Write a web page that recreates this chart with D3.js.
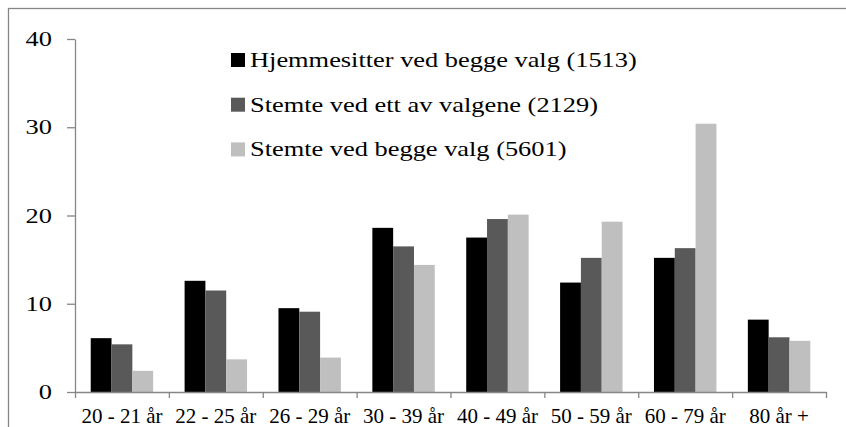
<!DOCTYPE html>
<meta charset="utf-8">
<body style="margin:0; background:#ffffff">
<svg class="chart"></svg>
<script src="https://d3js.org/d3.v7.min.js"></script>
<script>

var categories = ["20 - 21 år", "22 - 25 år", "26 - 29 år", "30 - 39 år", "40 - 49 år", "50 - 59 år", "60 - 79 år", "80 år +"];

var seriesNames = ["Hjemmesitter ved begge valg (1513)", "Stemte ved ett av valgene (2129)", "Stemte ved begge valg (5601)"];

var hjemmesitter = [6.1, 12.6, 9.5, 18.6, 17.5, 12.4, 15.2, 8.2];
var stemteEtt = [5.4, 11.5, 9.1, 16.5, 19.6, 15.2, 16.3, 6.2];
var stemteBegge = [2.4, 3.7, 3.9, 14.4, 20.1, 19.3, 30.4, 5.8];

var yTicks = [0, 10, 20, 30, 40];

var colors = ["#000000", "#595959", "#bfbfbf"];

var font = "'Liberation Serif', 'Times New Roman', serif";
var axisColor = "#868686";
var stretch = 1.2; // the reference text is a bit wider than it is tall

var width = 846, height = 427;
var margin = {top: 39, left: 75};
var innerW = 826 - margin.left;
var innerH = 392 - margin.top;

var svg = d3.select(".chart")
	.attr("width", width)
	.attr("height", height);

// outer frame (only left and top edges show in the picture)
svg.append("rect")
	.attr("x", 8.5)
	.attr("y", 8.5)
	.attr("width", 900)
	.attr("height", 500)
	.attr("fill", "none")
	.attr("stroke", axisColor)
	.attr("stroke-width", 1.3);

var chart = svg.append("g")
	.attr("transform", "translate(" + margin.left + "," + margin.top + ")");

var x0 = d3.scaleBand()
	.domain(categories)
	.range([0, innerW])
	.paddingInner(0.335)
	.paddingOuter(0.1675);

var x1 = d3.scaleBand()
	.domain([0, 1, 2])
	.range([0, x0.bandwidth()]);

var y = d3.scaleLinear()
	.domain([0, 40])
	.range([innerH, 0]);

var data = categories.map(function (c, i) {
	return {cat: c, values: [hjemmesitter[i], stemteEtt[i], stemteBegge[i]]};
});

chart.selectAll(".group")
	.data(data)
  .enter().append("g")
	.attr("class", "group")
	.attr("transform", function (d) { return "translate(" + x0(d.cat) + ",0)"; })
  .selectAll("rect")
	.data(function (d) { return d.values; })
  .enter().append("rect")
	.attr("x", function (d, i) { return x1(i); })
	.attr("width", x1.bandwidth())
	.attr("y", function (d) { return y(d); })
	.attr("height", function (d) { return innerH - y(d); })
	.attr("fill", function (d, i) { return colors[i]; });

// y axis, labels drawn separately so they can be stretched
var yAxis = d3.axisLeft(y)
	.tickValues(yTicks)
	.tickSize(8)
	.tickSizeOuter(0)
	.tickFormat("");

var yg = chart.append("g").call(yAxis);
yg.selectAll("path, line").attr("stroke", axisColor).attr("stroke-width", 1.3);

chart.append("g")
	.selectAll("g")
	.data(yTicks)
  .enter().append("g")
	.attr("transform", function (d) { return "translate(-23," + y(d) + ") scale(" + stretch + ",1)"; })
  .append("text")
	.attr("dy", "0.32em")
	.attr("text-anchor", "end")
	.style("font-family", font)
	.style("font-size", "22px")
	.attr("fill", "#000")
	.text(function (d) { return d; });

// x axis: ticks sit between the categories
var xAxis = d3.axisBottom(d3.scaleLinear().domain([0, categories.length]).range([0, innerW]))
	.tickValues(d3.range(categories.length + 1))
	.tickSize(6)
	.tickSizeOuter(0)
	.tickFormat("");

var xg = chart.append("g")
	.attr("transform", "translate(0," + innerH + ")")
	.call(xAxis);
xg.selectAll("path, line").attr("stroke", axisColor).attr("stroke-width", 1.3);

chart.append("g")
	.selectAll("g")
	.data(categories)
  .enter().append("g")
	.attr("transform", function (d) { return "translate(" + (x0(d) + x0.bandwidth() / 2) + "," + (innerH + 31) + ") scale(1.05,1)"; })
  .append("text")
	.attr("text-anchor", "middle")
	.style("font-family", font)
	.style("font-size", "20px")
	.attr("fill", "#000")
	.text(function (d) { return d; });

var legend = svg.append("g")
	.attr("transform", "translate(231,53)");

var row = legend.selectAll("g")
	.data(seriesNames)
  .enter().append("g")
	.attr("transform", function (d, i) { return "translate(0," + (i * 44.7) + ")"; });

row.append("rect")
	.attr("width", 14)
	.attr("height", 14)
	.attr("fill", function (d, i) { return colors[i]; });

row.append("g")
	.attr("transform", "translate(19,14) scale(" + stretch + ",1)")
  .append("text")
	.style("font-family", font)
	.style("font-size", "22px")
	.attr("fill", "#000")
	.text(function (d) { return d; });

</script>
</body>
